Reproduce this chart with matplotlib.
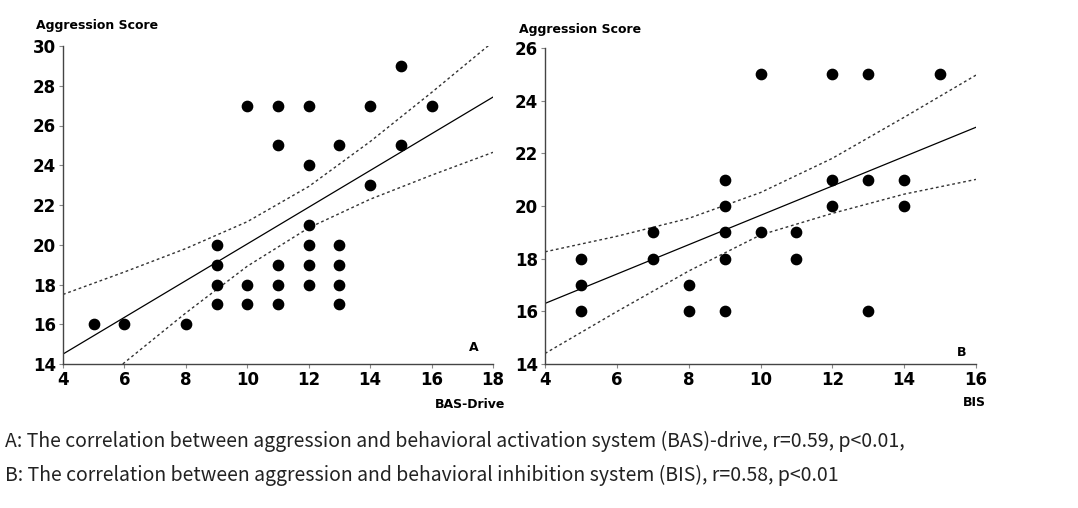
import numpy as np
import matplotlib.pyplot as plt

# panel A: BAS-Drive vs aggression
bas_x = [5, 6, 8, 9, 9, 9, 9, 10, 10, 10, 11, 11, 11, 11, 11,
         12, 12, 12, 12, 12, 12, 13, 13, 13, 13, 13, 14, 14, 15, 15, 16]
bas_y = [16, 16, 16, 17, 18, 19, 20, 17, 18, 27, 17, 18, 19, 25, 27,
         18, 19, 20, 21, 24, 27, 17, 18, 19, 20, 25, 23, 27, 25, 29, 27]

# fitted line and confidence band
bas_fit_x = [4, 18]
bas_fit_y = [14.5, 27.43]
bas_band_x = [4, 6, 8, 10, 12, 14, 16, 18]
bas_band_hi = [17.5, 18.63, 19.81, 21.16, 22.93, 25.19, 27.66, 30.21]
bas_band_lo = [11.5, 14.07, 16.57, 18.92, 20.85, 22.29, 23.50, 24.65]

# panel B: BIS vs aggression
bis_x = [5, 5, 5, 7, 7, 8, 8, 9, 9, 9, 9, 9, 10, 10, 11, 11,
         12, 12, 12, 13, 13, 13, 14, 14, 15]
bis_y = [16, 17, 18, 18, 19, 16, 17, 16, 18, 19, 20, 21, 19, 25, 18, 19,
         20, 21, 25, 16, 21, 25, 20, 21, 25]

bis_fit_x = [4, 16]
bis_fit_y = [16.30, 22.99]
bis_band_x = [4, 6, 8, 10, 12, 14, 16]
bis_band_hi = [18.26, 18.85, 19.53, 20.51, 21.81, 23.37, 24.97]
bis_band_lo = [14.40, 15.99, 17.53, 18.90, 19.72, 20.45, 21.01]

caption = ["A: The correlation between aggression and behavioral activation system (BAS)-drive, r=0.59, p<0.01,",
           "B: The correlation between aggression and behavioral inhibition system (BIS), r=0.58, p<0.01"]


def panel(ax, x, y, fx, fy, bx, blo, bhi, xlim, ylim, xticks, yticks, letter, lpos):
    ax.plot(fx, fy, color='black', lw=0.9)
    ax.plot(bx, blo, color='#333333', lw=1, ls=(0, (2, 2)))
    ax.plot(bx, bhi, color='#333333', lw=1, ls=(0, (2, 2)))
    ax.scatter(x, y, s=55, color='black', zorder=3)
    ax.set_xlim(xlim)
    ax.set_ylim(ylim)
    ax.set_xticks(xticks)
    ax.set_yticks(yticks)
    for sp in ['top', 'right']:
        ax.spines[sp].set_visible(False)
    for sp in ['left', 'bottom']:
        ax.spines[sp].set_color('#444444')
        ax.spines[sp].set_linewidth(1)
    ax.tick_params(length=3, width=0.8, color='#888888', pad=2,
                   labelsize=12)
    for lab in ax.get_xticklabels() + ax.get_yticklabels():
        lab.set_fontweight('bold')
    ax.text(lpos[0], lpos[1], letter, transform=ax.transAxes, fontsize=9,
            fontweight='bold', ha='center', va='center')


fig = plt.figure(figsize=(10.78, 5.08), dpi=100)
axA = fig.add_axes([63 / 1078, 1 - 364 / 508, 430 / 1078, 318 / 508])
axB = fig.add_axes([545 / 1078, 1 - 364 / 508, 431 / 1078, 316 / 508])

panel(axA, bas_x, bas_y, bas_fit_x, bas_fit_y, bas_band_x, bas_band_lo, bas_band_hi,
      (4, 18), (14, 30), range(4, 19, 2), range(14, 31, 2), 'A', (0.956, 0.053))
panel(axB, bis_x, bis_y, bis_fit_x, bis_fit_y, bis_band_x, bis_band_lo, bis_band_hi,
      (4, 16), (14, 26), range(4, 17, 2), range(14, 27, 2), 'B', (0.9675, 0.035))

fig.text(36 / 1078, 1 - 26 / 508, 'Aggression Score', fontsize=9, fontweight='bold', va='center')
fig.text(519 / 1078, 1 - 29 / 508, 'Aggression Score', fontsize=9, fontweight='bold', va='center')
fig.text(505 / 1078, 1 - 404 / 508, 'BAS-Drive', fontsize=9, fontweight='bold', va='center', ha='right')
fig.text(986 / 1078, 1 - 402 / 508, 'BIS', fontsize=9, fontweight='bold', va='center', ha='right')

fig.text(5 / 1078, 1 - 441 / 508, caption[0], fontsize=14, color='#222222', va='center',
         family=['Noto Sans CJK KR', 'DejaVu Sans'])
fig.text(5 / 1078, 1 - 475 / 508, caption[1], fontsize=14, color='#222222', va='center',
         family=['Noto Sans CJK KR', 'DejaVu Sans'])

fig.savefig('out.png', dpi=100, facecolor='white')
